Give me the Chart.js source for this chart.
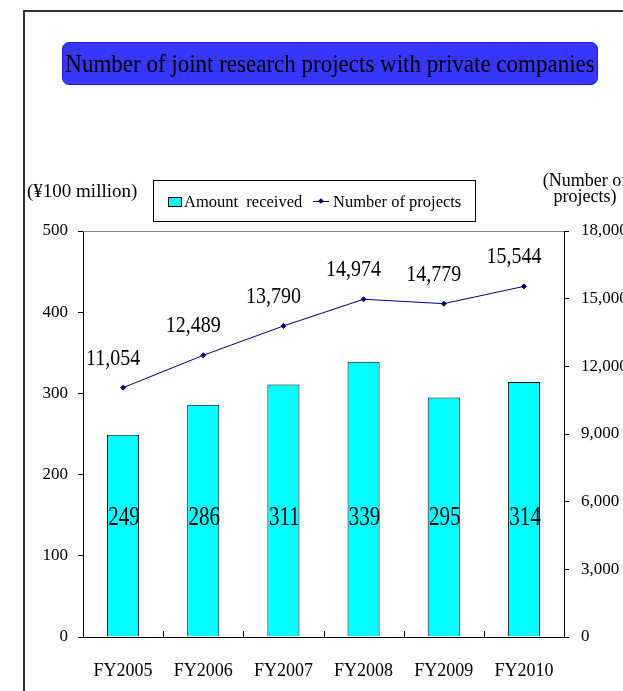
<!DOCTYPE html>
<html>
<head>
<meta charset="utf-8">
<script src="https://cdn.jsdelivr.net/npm/chart.js@4"></script>
<style>
  html, body { margin: 0; padding: 0; background: #fff; overflow: hidden; }
  body { width: 623px; height: 691px; position: relative; font-family: 'Liberation Serif', 'Times New Roman', serif; color: #000; }
  .frame { position: absolute; left: 23px; top: 10px; width: 700px; height: 800px; border: 2px solid #333; box-sizing: border-box; }
  #chart { position: absolute; left: 0; top: 0; }
  .title { position: absolute; left: 62px; top: 42px; width: 536px; height: 43px; background: #3636ff; border: 1px solid #1c1ce8; border-radius: 7px; box-sizing: border-box; font-size: 23px; line-height: 41px; text-align: center; white-space: nowrap; }
  .title span { display: inline-block; transform: scaleY(1.1); }
  .unit-left { position: absolute; left: 27px; top: 180px; font-size: 19px; line-height: 22px; white-space: nowrap; }
  .unit-right { position: absolute; left: 540px; top: 172px; width: 90px; font-size: 18px; line-height: 16px; text-align: center; white-space: nowrap; }
  .legend { position: absolute; left: 153px; top: 180px; width: 323px; height: 42px; border: 1px solid #000; box-sizing: border-box; font-size: 16.5px; }
  .legend span { position: absolute; top: 11px; line-height: 20px; white-space: nowrap; }
  .swatch { position: absolute; left: 14px; top: 16px; width: 14px; height: 10px; background: #00ffff; border: 1px solid #000; box-sizing: border-box; }
  .lineKey { position: absolute; left: 159px; top: 20px; width: 16px; height: 1px; background: #000080; }
  .lineKey::after { content: ''; position: absolute; left: 6px; top: -2px; width: 4px; height: 4px; background: #000080; transform: rotate(45deg); }
</style>
</head>
<body>
<div class="frame"></div>
<canvas id="chart" width="623" height="691"></canvas>
<div class="title"><span>Number of joint research projects with private companies</span></div>
<div class="unit-left">(¥100 million)</div>
<div class="unit-right">(Number of<br>projects)</div>
<div class="legend">
  <div class="swatch"></div><span style="left:30px">Amount&nbsp; received</span>
  <div class="lineKey"></div><span style="left:179px">Number of projects</span>
</div>
<script>
const fiscalYears = ['FY2005', 'FY2006', 'FY2007', 'FY2008', 'FY2009', 'FY2010'];
const amountReceived = [249, 286, 311, 339, 295, 314];      // ¥100 million
const projectCounts = [11054, 12489, 13790, 14974, 14779, 15544];
const amountAxis = { max: 500, step: 100 };
const projectAxis = { max: 18000, step: 3000 };

const serif = "'Liberation Serif', 'Times New Roman', serif";

// draws text taller than wide, like the old office fonts
function tallText(ctx, text, x, y, stretch) {
  ctx.save();
  ctx.translate(x, y);
  ctx.scale(1, stretch);
  ctx.fillText(text, 0, 0);
  ctx.restore();
}

const axisDecor = {
  id: 'axisDecor',
  beforeDatasetsDraw(chart) {
    const { ctx, chartArea, scales } = chart;
    ctx.save();
    // grey top edge of the plot
    ctx.strokeStyle = '#888';
    ctx.lineWidth = 1;
    ctx.beginPath();
    ctx.moveTo(chartArea.left, chartArea.top + 0.5);
    ctx.lineTo(chartArea.right, chartArea.top + 0.5);
    ctx.stroke();
    // small inward ticks between categories
    ctx.strokeStyle = '#000';
    const x = scales.x;
    for (let i = 1; i < fiscalYears.length; i++) {
      const px = Math.round((x.getPixelForValue(i - 1) + x.getPixelForValue(i)) / 2) + 0.5;
      ctx.beginPath();
      ctx.moveTo(px, chartArea.bottom);
      ctx.lineTo(px, chartArea.bottom - 6);
      ctx.stroke();
    }
    ctx.restore();
  }
};

const valueLabels = {
  id: 'valueLabels',
  afterDatasetsDraw(chart) {
    const { ctx, scales } = chart;
    ctx.save();
    ctx.fillStyle = '#000';
    ctx.textAlign = 'center';
    ctx.textBaseline = 'middle';
    ctx.font = '21px ' + serif;
    const barLevel = scales.y.getPixelForValue(147);
    chart.getDatasetMeta(0).data.forEach((bar, i) => {
      tallText(ctx, String(amountReceived[i]), bar.x + 1, barLevel, 1.3);
    });
    ctx.font = '20px ' + serif;
    chart.getDatasetMeta(1).data.forEach((pt, i) => {
      tallText(ctx, projectCounts[i].toLocaleString('en-US'), pt.x - 10, pt.y - 29, 1.15);
    });
    ctx.restore();
  }
};

const tickFont = { family: serif, size: 17 };

new Chart(document.getElementById('chart'), {
  data: {
    labels: fiscalYears,
    datasets: [
      {
        type: 'bar',
        label: 'Amount received',
        data: amountReceived,
        yAxisID: 'y',
        backgroundColor: '#00ffff',
        borderColor: '#000',
        borderWidth: 1,
        barPercentage: 0.4,
        categoryPercentage: 1,
        order: 2
      },
      {
        type: 'line',
        label: 'Number of projects',
        data: projectCounts,
        yAxisID: 'y1',
        borderColor: '#000080',
        backgroundColor: '#000080',
        borderWidth: 1,
        pointStyle: 'rectRot',
        pointRadius: 2.5,
        tension: 0,
        order: 1
      }
    ]
  },
  options: {
    responsive: false,
    animation: false,
    events: [],
    layout: { padding: { top: 231, left: 0, right: 0, bottom: 0 } },
    plugins: { legend: { display: false }, tooltip: { enabled: false } },
    scales: {
      x: {
        offset: true,
        grid: { display: false },
        border: { display: true, color: '#000', width: 1 },
        ticks: { color: '#000', font: { family: serif, size: 18 }, padding: 15 },
        afterFit: s => { s.height = 54; }
      },
      y: {
        position: 'left',
        min: 0,
        max: amountAxis.max,
        ticks: { stepSize: amountAxis.step, color: '#000', font: tickFont, padding: 10 },
        grid: { drawOnChartArea: false, tickLength: 5, color: '#000' },
        border: { display: true, color: '#000', width: 1 },
        afterFit: s => { s.width = 83; }
      },
      y1: {
        position: 'right',
        min: 0,
        max: projectAxis.max,
        ticks: {
          stepSize: projectAxis.step,
          color: '#000',
          font: tickFont,
          padding: 12,
          callback: v => v.toLocaleString('en-US')
        },
        grid: { drawOnChartArea: false, tickLength: 5, color: '#000' },
        border: { display: true, color: '#000', width: 1 },
        afterFit: s => { s.width = 59; }
      }
    }
  },
  plugins: [axisDecor, valueLabels]
});
</script>
</body>
</html>
